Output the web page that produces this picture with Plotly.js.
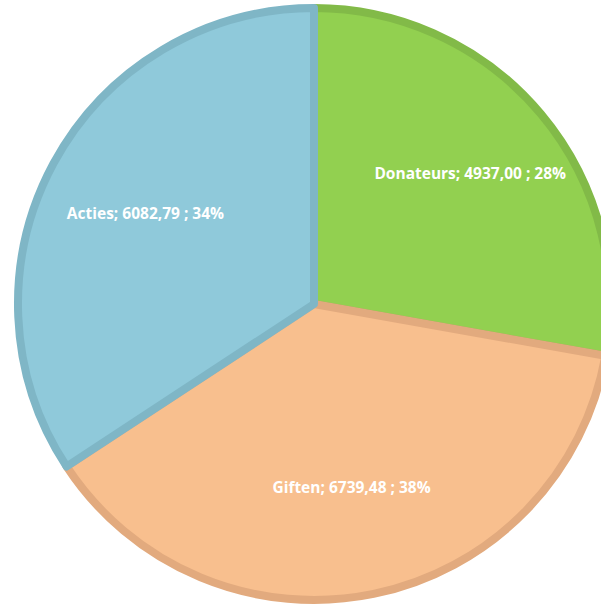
<!DOCTYPE html>
<html>
<head>
<meta charset="utf-8">
<script src="https://cdn.plot.ly/plotly-3.0.1.min.js"></script>
<style>
html, body { margin: 0; padding: 0; overflow: hidden; background: #ffffff; width: 601px; height: 605px; }
#chart { position: absolute; left: -50px; top: -60px; width: 730px; height: 730px; }
</style>
</head>
<body>
<div id="chart"></div>
<script>
const categories = ["Donateurs", "Giften", "Acties"];
const amounts = [4937.00, 6739.48, 6082.79];
const fillColors = ["#92D050", "#F8BF8E", "#8FC9DA"];
const borderColors = ["#82BA48", "#E2AA7E", "#7FB6C6"];

const W = 730, H = 730;
const cx = 364, cy = 364, r = 296, rText = 360;
const domFor = rad => ({ x: [(cx - rad) / W, (cx + rad) / W], y: [(H - cy - rad) / H, (H - cy + rad) / H] });

const slices = {
  type: "pie",
  labels: categories,
  values: amounts,
  sort: false,
  direction: "clockwise",
  rotation: 0,
  marker: { colors: fillColors, line: { color: borderColors, width: 8 } },
  textinfo: "none",
  hoverinfo: "none",
  showlegend: false,
  domain: domFor(r)
};

const labelsLayer = {
  type: "pie",
  labels: categories,
  values: amounts,
  sort: false,
  direction: "clockwise",
  rotation: 0,
  marker: { colors: ["rgba(0,0,0,0)", "rgba(0,0,0,0)", "rgba(0,0,0,0)"], line: { width: 0 } },
  texttemplate: "%{label}; %{value:.2f} ; %{percent:.0%}",
  textposition: "inside",
  insidetextorientation: "horizontal",
  textfont: { family: "'Open Sans', Lato, sans-serif", size: 15.5, color: "#ffffff", weight: "bold" },
  hoverinfo: "none",
  showlegend: false,
  domain: domFor(rText)
};

Plotly.newPlot("chart", [slices, labelsLayer], {
  width: W, height: H,
  margin: { l: 0, r: 0, t: 0, b: 0 },
  separators: ",.",
  paper_bgcolor: "rgba(0,0,0,0)",
  plot_bgcolor: "rgba(0,0,0,0)",
  showlegend: false
}, { staticPlot: true });
</script>
</body>
</html>
